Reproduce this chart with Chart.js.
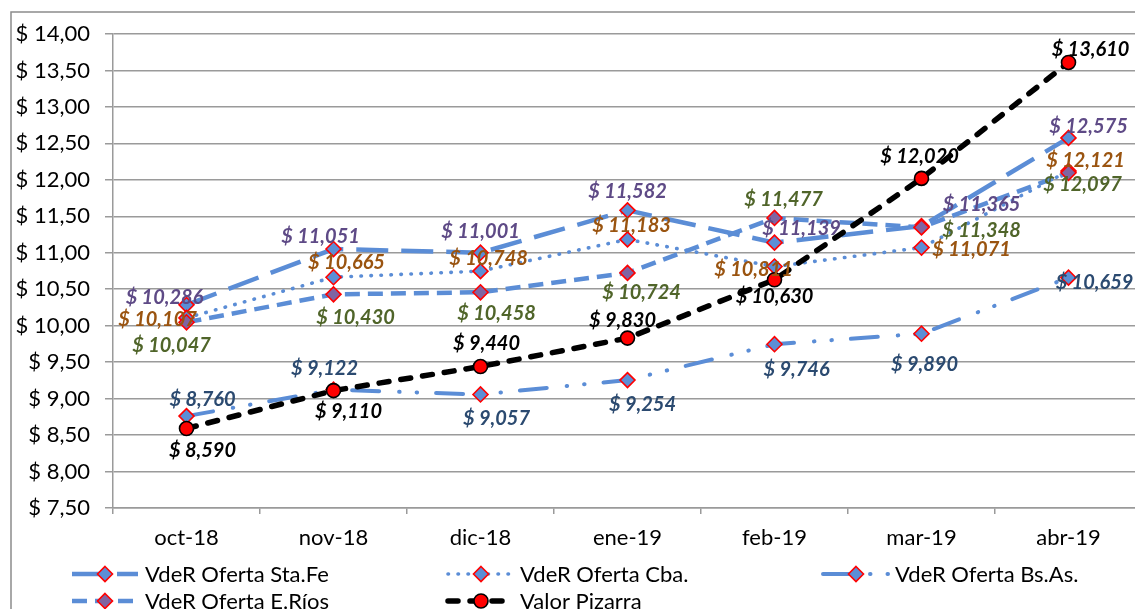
<!DOCTYPE html>
<html><head><meta charset="utf-8">
<script src="https://cdn.jsdelivr.net/npm/chart.js@4.4.1/dist/chart.umd.min.js"></script>
<style>
html,body{margin:0;padding:0;background:#fff;overflow:hidden;}
#wrap{position:relative;width:1135px;height:609px;overflow:hidden;background:#fff;}
canvas{display:block;}
</style>
</head><body>
<div id="wrap"><canvas id="c" width="1160" height="609" style="width:1160px;height:609px"></canvas></div>
<script>
// ---- data ----
const categories = ['oct-18','nov-18','dic-18','ene-19','feb-19','mar-19','abr-19'];
const seriesNames = ['VdeR Oferta Sta.Fe','VdeR Oferta Cba.','VdeR Oferta Bs.As.','VdeR Oferta E.Ríos','Valor Pizarra'];
const staFe   = [10.286, 11.051, 11.001, 11.582, 11.139, 11.365, 12.575];
const cba     = [10.107, 10.665, 10.748, 11.183, 10.811, 11.071, 12.121];
const bsAs    = [8.760, 9.122, 9.057, 9.254, 9.746, 9.890, 10.659];
const eRios   = [10.047, 10.430, 10.458, 10.724, 11.477, 11.348, 12.097];
const pizarra = [8.590, 9.110, 9.440, 9.830, 10.630, 12.020, 13.610];
const yTickMin = 7.5, yTickMax = 14, yTickStep = 0.5;

// ---- styles ----
const FONT = 'Lato, "Open Sans", sans-serif';
const LINE_BLUE = '#5B8DD6';
const fmtTick = v => '$ ' + v.toFixed(2).replace('.', ',');
const fmtVal = v => '$ ' + v.toFixed(3).replace('.', ',');

// label offsets (px, relative to point) – styling only
const labelOffsets = {
  staFe:  [[-22,-7],[-13,-13],[0,-21],[0,-19],[27,-14],[60,-22],[20,-11]],
  cba:    [[-29,2],[13,-15],[8,-13],[4,-14],[-21,3],[50,2],[17,-10]],
  bsAs:   [[16,-17],[-9,-21],[16,24],[15,24],[22,25],[3,31],[26,5]],
  eRios:  [[-15,23],[22,23],[16,21],[14,20],[9,-18],[60,3],[14,12]],
  pizarra:[[16,22],[15,21],[6,-23],[-5,-18],[0,17],[-2,-22],[22,-13]]
};

const datasets = [
  {label: seriesNames[0], data: staFe, borderColor: LINE_BLUE, borderWidth: 4.5, borderDash: [32,13], borderCapStyle: 'butt',
   pointStyle: 'rectRot', pointRadius: 7.5, pointBackgroundColor: '#5B8ED6', pointBorderColor: '#FF0000', pointBorderWidth: 1.6,
   order: 5, labelColor: '#5E4A86', labelOffsets: labelOffsets.staFe},
  {label: seriesNames[1], data: cba, borderColor: LINE_BLUE, borderWidth: 3.6, borderDash: [0.5,9.5], borderCapStyle: 'round',
   pointStyle: 'rectRot', pointRadius: 7.5, pointBackgroundColor: '#5B8ED6', pointBorderColor: '#FF0000', pointBorderWidth: 1.6,
   order: 4, labelColor: '#9A5410', labelOffsets: labelOffsets.cba},
  {label: seriesNames[2], data: bsAs, borderColor: LINE_BLUE, borderWidth: 4, borderDash: [27,20,0.5,17,0.5,19], borderCapStyle: 'round',
   pointStyle: 'rectRot', pointRadius: 7.5, pointBackgroundColor: '#5B8ED6', pointBorderColor: '#FF0000', pointBorderWidth: 1.6,
   order: 3, labelColor: '#2B4A70', labelOffsets: labelOffsets.bsAs},
  {label: seriesNames[3], data: eRios, borderColor: LINE_BLUE, borderWidth: 4.5, borderDash: [15,8], borderCapStyle: 'butt',
   pointStyle: 'rectRot', pointRadius: 7.5, pointBackgroundColor: '#8064A2', pointBorderColor: '#FF0000', pointBorderWidth: 1.6,
   order: 2, labelColor: '#50652A', labelOffsets: labelOffsets.eRios},
  {label: seriesNames[4], data: pizarra, borderColor: '#000000', borderWidth: 5.5, borderDash: [10,12], borderCapStyle: 'round',
   pointStyle: 'circle', pointRadius: 7, pointBackgroundColor: '#FF0000', pointBorderColor: '#000000', pointBorderWidth: 1.6,
   order: 1, labelColor: '#000000', labelOffsets: labelOffsets.pizarra}
];
datasets.forEach(d => { d.fill = false; d.tension = 0; d.pointHoverRadius = d.pointRadius; });

// frame plugin
const framePlugin = {
  id: 'frame',
  beforeDraw(chart) {
    const ctx = chart.ctx;
    ctx.save();
    ctx.fillStyle = '#fff';
    ctx.fillRect(0, 0, chart.width, chart.height);
    ctx.strokeStyle = '#8C8C8C';
    ctx.lineWidth = 1.5;
    ctx.strokeRect(11, 12, 1300, 800);
    ctx.restore();
  }
};

// data labels plugin
const labelPlugin = {
  id: 'vlabels',
  afterDatasetsDraw(chart) {
    const ctx = chart.ctx;
    ctx.save();
    ctx.font = 'italic bold 20px ' + FONT;
    ctx.textAlign = 'center';
    ctx.textBaseline = 'middle';
    chart.data.datasets.forEach((ds, i) => {
      const meta = chart.getDatasetMeta(i);
      meta.data.forEach((pt, j) => {
        const off = ds.labelOffsets[j] || [0, -18];
        ctx.fillStyle = ds.labelColor;
        ctx.fillText(fmtVal(ds.data[j]), pt.x + off[0], pt.y + off[1]);
      });
    });
    ctx.restore();
  }
};

// legend plugin
const legendItems = [
  {ds: 0, x0: 72,  x1: 138, tx: 145, y: 574},
  {ds: 1, x0: 448, x1: 514, tx: 520, y: 574},
  {ds: 2, x0: 823, x1: 889, tx: 895, y: 574},
  {ds: 3, x0: 72,  x1: 138, tx: 145, y: 601},
  {ds: 4, x0: 448, x1: 514, tx: 520, y: 601}
];
const legendPlugin = {
  id: 'customLegend',
  afterDraw(chart) {
    const ctx = chart.ctx;
    legendItems.forEach(it => {
      const ds = chart.data.datasets[it.ds];
      ctx.save();
      ctx.strokeStyle = ds.borderColor;
      ctx.lineWidth = ds.borderWidth;
      ctx.lineCap = ds.borderCapStyle;
      ctx.setLineDash(ds.borderDash);
      ctx.beginPath();
      ctx.moveTo(it.x0, it.y);
      ctx.lineTo(it.x1, it.y);
      ctx.stroke();
      ctx.setLineDash([]);
      const cx = (it.x0 + it.x1) / 2;
      ctx.fillStyle = ds.pointBackgroundColor;
      ctx.strokeStyle = ds.pointBorderColor;
      ctx.lineWidth = ds.pointBorderWidth;
      ctx.beginPath();
      if (ds.pointStyle === 'circle') ctx.arc(cx, it.y, ds.pointRadius, 0, Math.PI*2);
      else { const r = ds.pointRadius; ctx.moveTo(cx, it.y - r); ctx.lineTo(cx + r, it.y); ctx.lineTo(cx, it.y + r); ctx.lineTo(cx - r, it.y); ctx.closePath(); }
      ctx.fill(); ctx.stroke();
      ctx.fillStyle = '#000';
      ctx.font = '22px ' + FONT;
      ctx.textAlign = 'left';
      ctx.textBaseline = 'middle';
      ctx.fillText(ds.label, it.tx, it.y + 1);
      ctx.restore();
    });
  }
};

new Chart(document.getElementById('c'), {
  type: 'line',
  data: {labels: categories, datasets: datasets},
  options: {
    responsive: false,
    animation: false,
    devicePixelRatio: 1,
    layout: {padding: {left: 0, top: 34, right: 18, bottom: 51}},
    plugins: {legend: {display: false}, tooltip: {enabled: false}},
    events: [],
    scales: {
      x: {
        offset: true,
        grid: {offset: true, drawOnChartArea: false, drawTicks: true, tickLength: 6, color: '#9A9A9A', lineWidth: 1.5},
        border: {display: true, color: '#9A9A9A', width: 1.5},
        ticks: {color: '#000', font: {family: FONT, size: 22}, padding: 11, maxRotation: 0, autoSkip: false},
        afterFit(s) { s.height = 50; }
      },
      y: {
        min: yTickMin, max: yTickMax,
        grid: {color: '#9A9A9A', lineWidth: 1.5, drawTicks: true, tickLength: 8},
        border: {display: true, color: '#9A9A9A', width: 1.5},
        ticks: {stepSize: yTickStep, color: '#000', font: {family: FONT, size: 22}, padding: 15, callback: v => fmtTick(v)},
        afterFit(s) { s.width = 113; }
      }
    }
  },
  plugins: [framePlugin, labelPlugin, legendPlugin]
});
</script>
</body></html>
